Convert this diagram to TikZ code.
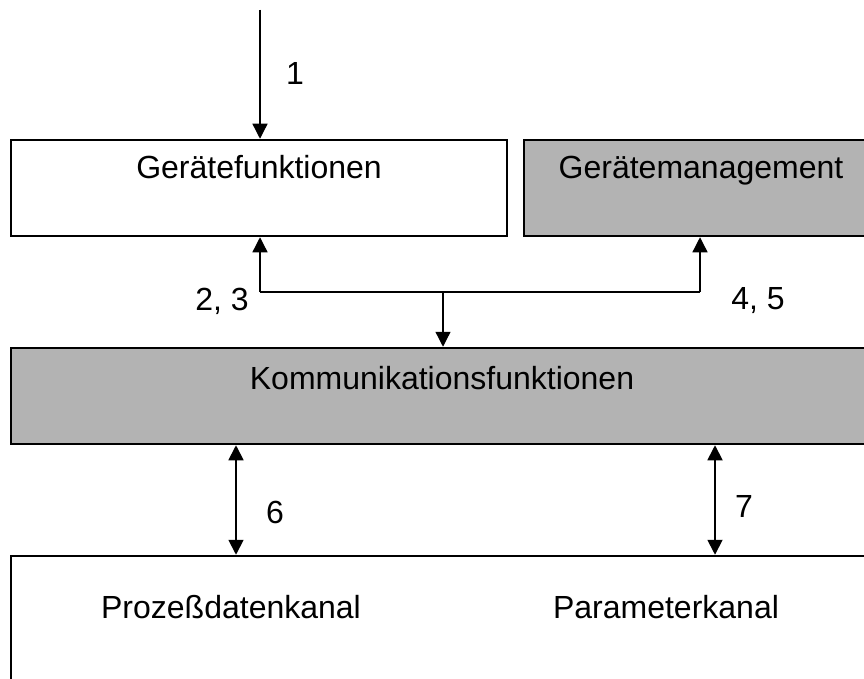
\documentclass[tikz,border=0pt]{standalone}
\usepackage{fontspec}
\setmainfont{Liberation Sans}
\usetikzlibrary{arrows.meta}
\definecolor{boxgray}{RGB}{179,179,179}
\tikzset{
  box/.style={draw=black, line width=2.5pt, rectangle, inner sep=0pt, anchor=center},
  lbl/.style={font=\fontsize{32}{38}\selectfont, inner sep=0pt, text=black},
  arr/.style={line width=1.3pt, -{Triangle[length=15pt,width=15pt]}},
  darr/.style={line width=1.8pt, {Triangle[length=15pt,width=15pt]}-{Triangle[length=15pt,width=15pt]}},
  conn/.style={line width=1.3pt}
}
\begin{document}
\begin{tikzpicture}[x=1pt,y=-1pt]
\useasboundingbox (0,0) rectangle (864,679);
\begin{scope}
\clip (0,0) rectangle (864,679);
% boxes
\node[box, fill=white, minimum width=496pt, minimum height=96pt] (gf) at (259,188) {};
\node[box, fill=boxgray, minimum width=356pt, minimum height=96pt] (gm) at (702,188) {};
\node[box, fill=boxgray, minimum width=869pt, minimum height=96pt] (km) at (445.5,396) {};
\node[box, fill=white, minimum width=869pt, minimum height=144pt] (pk) at (445.5,628) {};
% texts
\node[lbl, anchor=base] (tgf) at ([yshift=-40pt]gf.north) {Gerätefunktionen};
\node[lbl, anchor=base] (tgm) at ([yshift=-40pt]gm.north -| 701,0) {Gerätemanagement};
\node[lbl, anchor=base] (tkm) at ([yshift=-43pt]km.north -| 442,0) {Kommunikationsfunktionen};
\node[lbl, anchor=base] (tpd) at ([yshift=-64pt]pk.north -| 231,0) {Prozeßdatenkanal};
\node[lbl, anchor=base] (tpa) at ([yshift=-64pt]pk.north -| 666,0) {Parameterkanal};
% connectors
\coordinate (in1) at (260,10);
\coordinate (in1b) at (260,72);
\draw[arr] (in1) -- (in1 |- gf.north);
\draw[line width=2.5pt] (in1) -- (in1b);
\coordinate (cl) at (260,292);
\coordinate (cr) at (700,292);
\coordinate (jn) at (443,292);
\draw[conn] (cl) -- (cr);
\draw[arr] (cl) -- (cl |- gf.south);
\draw[arr] (cr) -- (cr |- gm.south);
\draw[arr] (jn) -- (jn |- km.north);
\coordinate (p6) at (236,500);
\coordinate (p7) at (715,500);
\draw[darr] (p6 |- km.south) -- (p6 |- pk.north);
\draw[darr] (p7 |- km.south) -- (p7 |- pk.north);
% labels
\node[lbl] (l1) at (295,73) {1};
\node[lbl] (l23) at (222,301) {2, 3};
\node[lbl] (l45) at (758,301) {4, 5};
\node[lbl] (l6) at (275,512) {6};
\node[lbl] (l7) at (744,506) {7};
\end{scope}
\end{tikzpicture}
\end{document}
